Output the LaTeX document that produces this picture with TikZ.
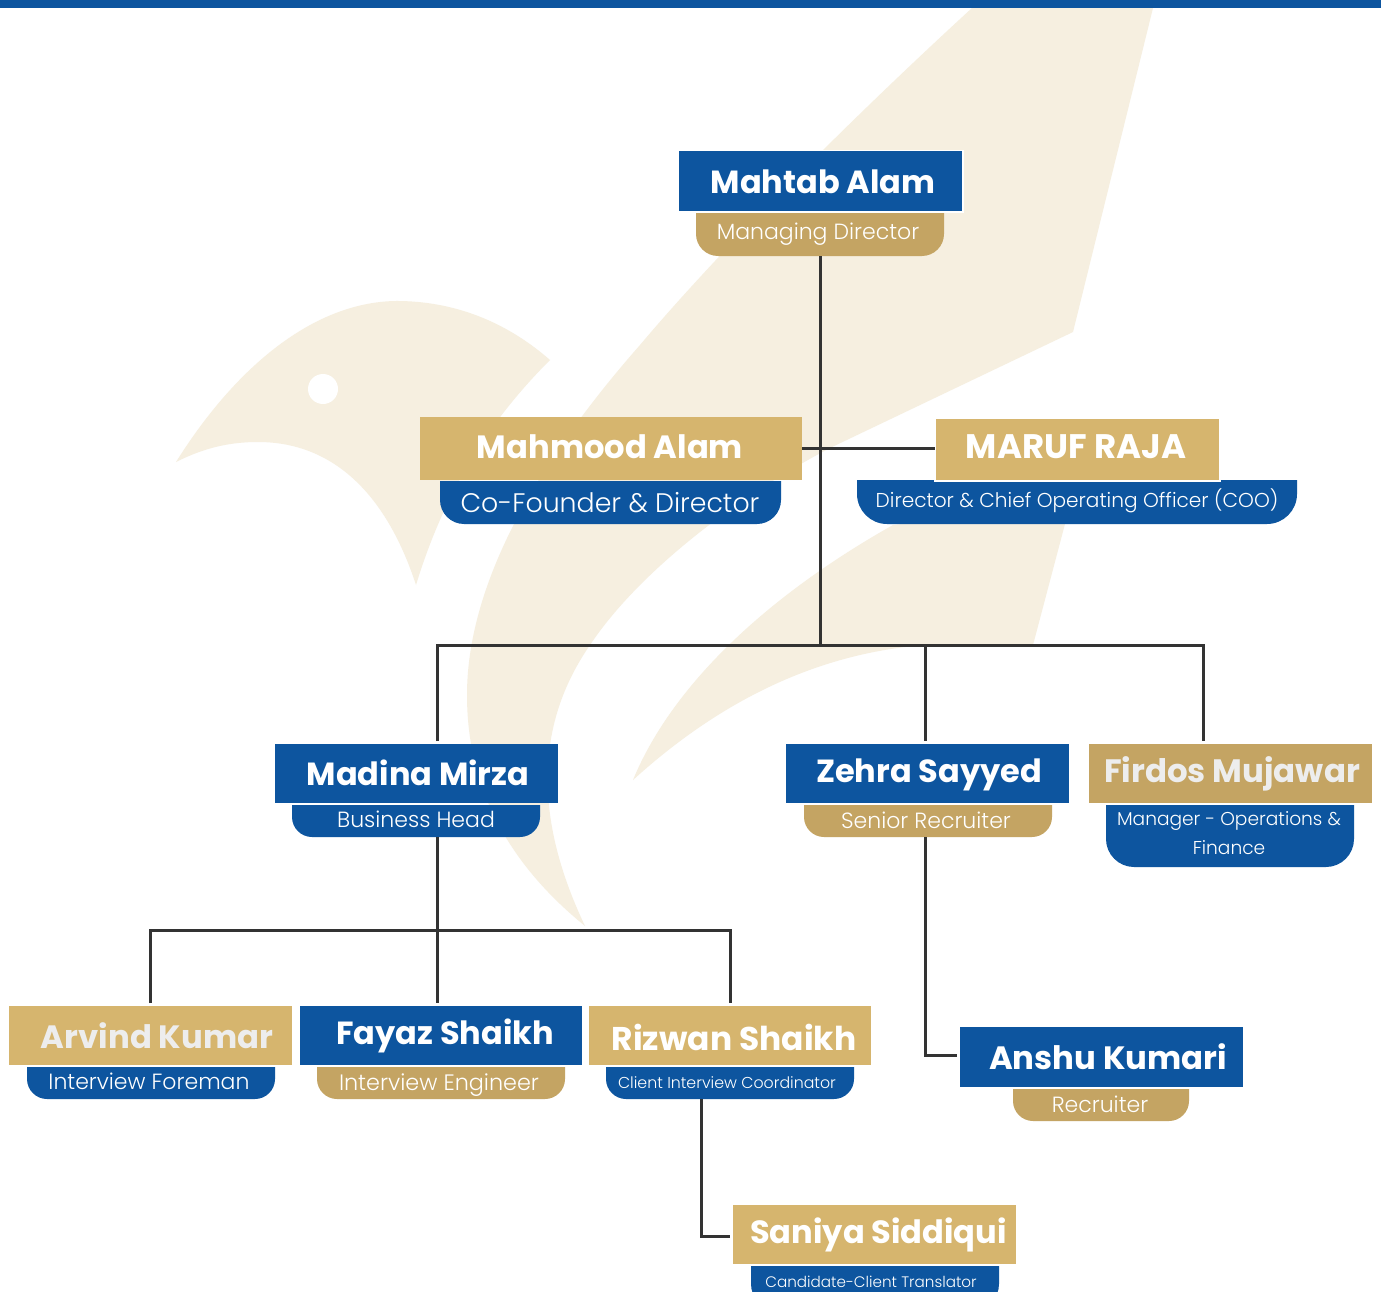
\documentclass[tikz,border=0pt]{standalone}
\usepackage{fontspec}
\setmainfont{Poppins}
\newfontfamily\lightf{Poppins Light}
\definecolor{navy}{HTML}{0D559F}
\definecolor{goldA}{HTML}{D6B56E}
\definecolor{goldB}{HTML}{C4A463}
\definecolor{cream}{HTML}{F6EFE0}
\definecolor{wire}{HTML}{333333}
\definecolor{offwhite}{HTML}{EDEDED}
\newcommand{\bigf}[1]{\fontsize{#1}{#1}\selectfont\bfseries}
\newcommand{\smallf}[1]{\fontsize{#1}{#1}\lightf}
\tikzset{
  x=1pt,y=-1pt,
  namebox/.style={rectangle,inner sep=0pt,outer sep=0pt,anchor=north west},
  wirepath/.style={draw=wire,line width=3pt},
  nametext/.style={text=white,inner sep=0pt,anchor=base},
  subtext/.style={text=white,inner sep=0pt,anchor=base},
}
% [options] name, x1, y1, x2, y2, fill
\newcommand{\headnode}[7][]{%
  \node[namebox,fill=#7,minimum width=#5pt-#3pt,minimum height=#6pt-#4pt,#1] (#2) at (#3,#4) {};}
% name, x1, y1, x2, y2, radius, fill
\newcommand{\tabbox}[7]{%
  \fill[#7] (#2,#3) -- (#4,#3) -- (#4,#5-#6)
    .. controls (#4,#5-0.45*#6) and (#4-0.45*#6,#5) .. (#4-#6,#5)
    -- (#2+#6,#5)
    .. controls (#2+0.45*#6,#5) and (#2,#5-0.45*#6) .. (#2,#5-#6) -- cycle;
  \node[namebox,minimum width=#4pt-#2pt,minimum height=#5pt-#3pt] (#1) at (#2,#3) {};}
\begin{document}
\begin{tikzpicture}
\useasboundingbox (0,0) rectangle (1381,1292);
\clip (0,0) rectangle (1381,1292);
\fill[white] (0,0) rectangle (1381,1292);
% watermark
\fill[cream] (972,8) -- (1153,8) -- (1073,332) -- (830,448)
  .. controls (740,495) and (640,570) .. (590,645)
  .. controls (545,710) and (525,800) .. (585,926)
  .. controls (510,865) and (467,790) .. (467,695)
  .. controls (467,590) and (530,470) .. (640,345)
  .. controls (720,250) and (850,120) .. (972,8) -- cycle;
\fill[cream] (1070,505) -- (1033,645) -- (905,647)
  .. controls (800,660) and (710,710) .. (633,780)
  .. controls (670,690) and (760,600) .. (893,525)
  -- (1070,505) -- cycle;
\fill[cream] (176,462)
  .. controls (240,360) and (320,300) .. (400,301)
  .. controls (460,302) and (510,325) .. (550,360)
  .. controls (490,420) and (445,490) .. (416,585)
  .. controls (385,490) and (330,442) .. (258,442)
  .. controls (225,442) and (200,450) .. (176,462) -- cycle;
\fill[white] (323,389) circle[radius=15];
\fill[navy] (0,0) rectangle (1381,8);
% tabs
\tabbox{mdsub}{696}{213}{944}{256}{22}{goldB}
\tabbox{mfsub}{440}{481}{781}{524}{24}{navy}
\tabbox{coosub}{857}{480}{1297}{524}{30}{navy}
\tabbox{bhsub}{292}{805}{540}{837}{20}{navy}
\tabbox{srsub}{804}{805}{1052}{837}{20}{goldB}
\tabbox{mgsub}{1106}{805}{1354}{867}{28}{navy}
\tabbox{ifsub}{27}{1067}{275}{1099}{20}{navy}
\tabbox{iesub}{317}{1067}{565}{1099}{20}{goldB}
\tabbox{cisub}{606}{1067}{854}{1099}{20}{navy}
\tabbox{recsub}{1013}{1089}{1189}{1121}{20}{goldB}
\tabbox{trsub}{751}{1266}{999}{1310}{26}{navy}
% head boxes
\headnode[draw=white,line width=1.5pt]{md}{678}{150.5}{963}{212}{navy}
\headnode{mf}{420}{417}{802}{480}{goldA}
\headnode[draw=white,line width=1.5pt]{coo}{935}{418}{1220}{481}{goldA}
\headnode{bh}{275}{744}{558}{803}{navy}
\headnode{sr}{786}{744}{1069}{803}{navy}
\headnode{mg}{1089}{744}{1372}{803}{goldB}
\headnode{iff}{9}{1006}{292}{1065}{goldA}
\headnode{ie}{300}{1006}{582}{1065}{navy}
\headnode{ci}{589}{1006}{871}{1065}{goldA}
\headnode{rec}{960}{1027}{1243}{1087}{navy}
\headnode{tr}{733}{1205}{1016}{1264}{goldA}
% junctions
\coordinate (trunkx) at (820,645);
\coordinate (busL) at (437,645);
\coordinate (busZ) at (925,645);
\coordinate (busR) at (1203,645);
\coordinate (sbusX) at (437,930);
\coordinate (sbusL) at (150,930);
\coordinate (sbusR) at (730,930);
\coordinate (elbowA) at (925,1055);
\coordinate (elbowB) at (701,1236);
% connectors
\draw[wirepath] (mdsub.south) -- (trunkx);
\draw[wirepath] (mf.east) -- (mf.east -| coo.west);
\draw[wirepath,shorten <=3pt,shorten >=3pt] (busL |- bh.north) -- (busL) -- (busR) -- (busR |- mg.north);
\draw[wirepath,shorten >=3pt] (busZ) -- (busZ |- sr.north);
\draw[wirepath,shorten >=3pt] (sbusX |- bhsub.south) -- (sbusX |- ie.north);
\draw[wirepath,shorten <=3pt,shorten >=3pt] (sbusL |- iff.north) -- (sbusL) -- (sbusR) -- (sbusR |- ci.north);
\draw[wirepath,shorten >=3pt] (elbowA |- srsub.south) -- (elbowA) -- (elbowA -| rec.west);
\draw[wirepath,shorten >=3pt] (elbowB |- cisub.south) -- (elbowB) -- (elbowB -| tr.west);
% labels
\node[nametext,font=\bigf{32}] at (823,194) {Mahtab Alam};
\node[subtext,font=\smallf{22}] at (818,239) {Managing Director};
\node[nametext,font=\bigf{32.2}] at (610,458) {Mahmood Alam};
\node[subtext,font=\smallf{26.8}] at (610,512) {Co-Founder \& Director};
\node[nametext,font=\bigf{34}] at (1076,458) {MARUF RAJA};
\node[subtext,font=\smallf{20.1}] at (1077,507) {Director \& Chief Operating Officer (COO)};
\node[nametext,font=\bigf{32}] at (418,785) {Madina Mirza};
\node[subtext,font=\smallf{22}] at (416,827) {Business Head};
\node[nametext,font=\bigf{32}] at (929,782) {Zehra Sayyed};
\node[subtext,font=\smallf{22}] at (926,828) {Senior Recruiter};
\node[nametext,text=offwhite,font=\bigf{32.4}] at (1232,782) {Firdos Mujawar};
\node[subtext,font=\smallf{18.6}] at (1229,825) {Manager - Operations \&};
\node[subtext,font=\smallf{18.6}] at (1229,854) {Finance};
\node[nametext,text=offwhite,font=\bigf{32.3}] at (157,1048) {Arvind Kumar};
\node[subtext,font=\smallf{22}] at (149,1089) {Interview Foreman};
\node[nametext,font=\bigf{32}] at (445,1044) {Fayaz Shaikh};
\node[subtext,font=\smallf{22.3}] at (439,1090) {Interview Engineer};
\node[nametext,font=\bigf{32.9}] at (734,1050) {Rizwan Shaikh};
\node[subtext,font=\smallf{15.8}] at (727,1088) {Client Interview Coordinator};
\node[nametext,font=\bigf{32.3}] at (1108,1069) {Anshu Kumari};
\node[subtext,font=\smallf{22}] at (1100,1112) {Recruiter};
\node[nametext,font=\bigf{32.1}] at (878.5,1243) {Saniya Siddiqui};
\node[subtext,font=\smallf{15.2}] at (871,1287) {Candidate-Client Translator};
\end{tikzpicture}
\end{document}
